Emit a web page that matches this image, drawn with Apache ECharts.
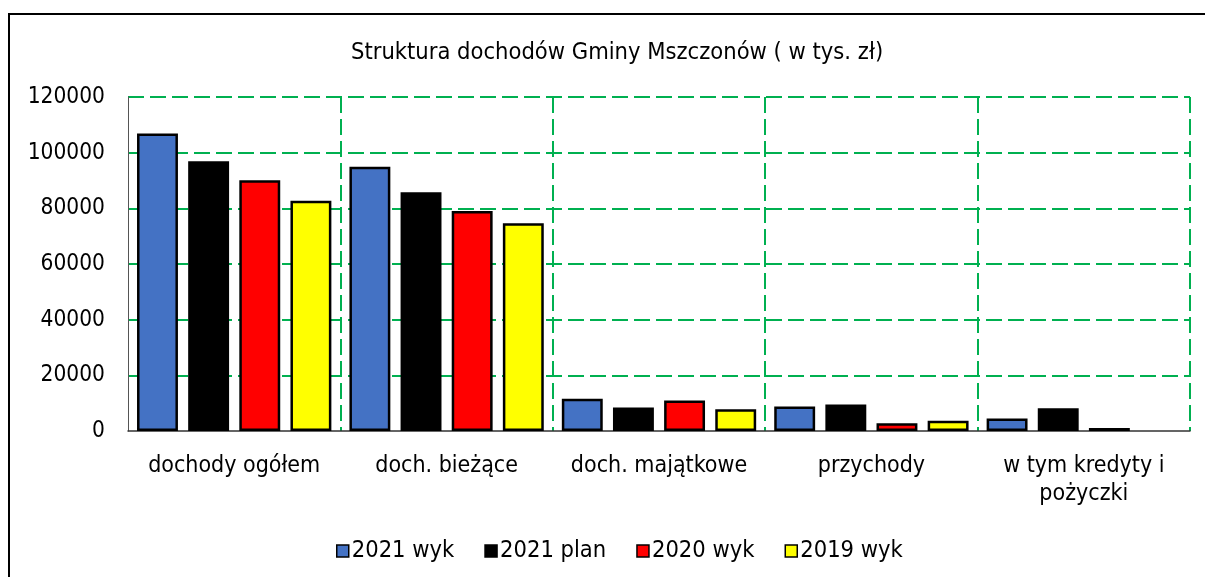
<!DOCTYPE html>
<html>
<head>
<meta charset="utf-8">
<script src="https://cdn.jsdelivr.net/npm/echarts@6/dist/echarts.min.js"></script>
<style>
    html, body { margin: 0; padding: 0; background: #fff; }
    #chart { width: 1205px; height: 577px; }
</style>
</head>
<body>
<div id="chart"></div>
<script>
    // kategorie i dane (tys. zł)
    const categories = ['dochody ogółem', 'doch. bieżące', 'doch. majątkowe', 'przychody', 'w tym kredyty i\npożyczki'];
    const wyk2021 = [106900, 94900, 11600, 8800, 4450];
    const plan2021 = [96900, 85800, 8400, 9500, 8150];
    const wyk2020 = [90100, 79000, 11000, 2750, 1100];
    const wyk2019 = [82700, 74600, 7800, 3700, '-'];
    const yTicks = [0, 20000, 40000, 60000, 80000, 100000, 120000];

    const font = '"DejaVu Sans Condensed", "DejaVu Sans", sans-serif';

    let myChart = echarts.init(document.getElementById('chart'));

    function bar(name, data, color) {
        return {
            name: name,
            type: 'bar',
            data: data,
            barGap: '25%',
            barCategoryGap: '8.5%',
            itemStyle: {
                color: color,
                borderColor: '#000',
                borderWidth: 2.5
            }
        };
    }

    let option = {
        animation: false,
        title: {
            text: 'Struktura dochodów Gminy Mszczonów ( w tys. zł)',
            left: 346,
            top: 36,
            textStyle: {
                fontFamily: font,
                fontSize: 23.5,
                fontWeight: 'normal',
                color: '#000'
            }
        },
        legend: {
            top: 534,
            left: 331,
            icon: 'rect',
            itemWidth: 12,
            itemHeight: 12,
            itemGap: 30,
            textStyle: {
                fontFamily: font,
                fontSize: 23.5,
                color: '#000',
                padding: [0, 0, 0, -2]
            },
            itemStyle: {
                borderColor: '#000',
                borderWidth: 1.5
            }
        },
        grid: {
            left: 128,
            right: 15,
            top: 97,
            bottom: 146
        },
        xAxis: {
            type: 'category',
            data: categories,
            axisLine: { lineStyle: { color: '#333', width: 1.5 } },
            axisTick: { show: false },
            axisLabel: {
                interval: 0,
                margin: 21,
                fontFamily: font,
                fontSize: 23,
                lineHeight: 28,
                color: '#000'
            },
            splitLine: {
                show: true,
                interval: 0,
                showMinLine: false,
                lineStyle: { color: '#00B050', width: 2, type: [16, 6] }
            }
        },
        yAxis: {
            type: 'value',
            min: yTicks[0],
            max: yTicks[yTicks.length - 1],
            interval: 20000,
            axisLine: { show: true, lineStyle: { color: '#555', width: 1 } },
            axisTick: { show: false },
            axisLabel: {
                margin: 23,
                fontFamily: font,
                fontSize: 22.5,
                color: '#000',
                formatter: (v) => String(v)
            },
            splitLine: {
                showMinLine: false,
                lineStyle: { color: '#00B050', width: 2, type: [16, 6] }
            }
        },
        graphic: [{
            type: 'rect',
            shape: { x: 9, y: 14, width: 1250, height: 650 },
            style: { fill: 'none', stroke: '#000', lineWidth: 2 },
            silent: true
        }],
        series: [
            bar('2021 wyk', wyk2021, '#4472C4'),
            bar('2021 plan', plan2021, '#000000'),
            bar('2020 wyk', wyk2020, '#FF0000'),
            bar('2019 wyk', wyk2019, '#FFFF00')
        ]
    };
    myChart.setOption(option);
</script>
</body>
</html>
